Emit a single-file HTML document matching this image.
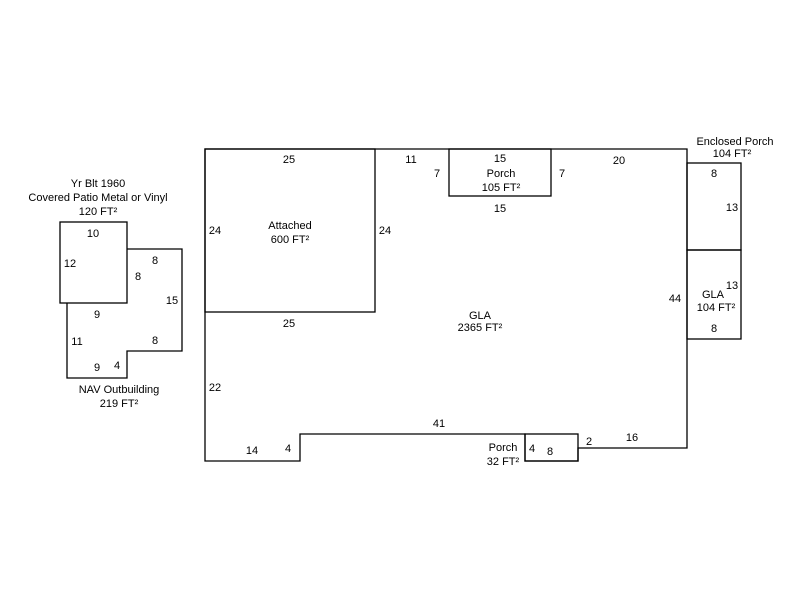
<!DOCTYPE html>
<html><head><style>body{margin:0;background:#fff}</style></head><body>
<svg width="800" height="600" xmlns="http://www.w3.org/2000/svg" font-family="Liberation Sans, Arial, sans-serif" font-size="11" fill="#000">
<rect width="800" height="600" fill="#fff"/>
<g fill="none" stroke="#000" stroke-width="1.3">
<rect x="60" y="222" width="67" height="81"/>
<polyline points="67,303 67,378 127,378 127,351 182,351 182,249 127,249"/>
<polygon points="205,149 687,149 687,448 578,448 578,461 525,461 525,434 300,434 300,461 205,461"/>
<rect x="205" y="149" width="170" height="163"/>
<rect x="449" y="149" width="102" height="47"/>
<rect x="525" y="434" width="53" height="27"/>
<rect x="687" y="163" width="54" height="87"/>
<rect x="687" y="250" width="54" height="89"/>
</g>
<g text-anchor="middle">
<text x="98" y="187">Yr Blt 1960</text>
<text x="98" y="201">Covered Patio Metal or Vinyl</text>
<text x="98" y="215">120 FT²</text>
<text x="93" y="237">10</text><text x="70" y="267">12</text><text x="138" y="280">8</text>
<text x="155" y="264">8</text><text x="172" y="304">15</text><text x="97" y="318">9</text>
<text x="77" y="345">11</text><text x="155" y="344">8</text><text x="97" y="371">9</text><text x="117" y="369">4</text>
<text x="119" y="393">NAV Outbuilding</text><text x="119" y="407">219 FT²</text>
<text x="289" y="163">25</text><text x="215" y="234">24</text><text x="385" y="234">24</text>
<text x="290" y="229">Attached</text><text x="290" y="243">600 FT²</text>
<text x="289" y="327">25</text>
<text x="411" y="163">11</text><text x="437" y="177">7</text><text x="500" y="162">15</text>
<text x="501" y="177">Porch</text><text x="501" y="191">105 FT²</text><text x="562" y="177">7</text>
<text x="500" y="212">15</text><text x="619" y="164">20</text>
<text x="735" y="145">Enclosed Porch</text><text x="732" y="157">104 FT²</text>
<text x="714" y="177">8</text><text x="732" y="211">13</text>
<text x="732" y="289">13</text><text x="713" y="298">GLA</text><text x="716" y="311">104 FT²</text><text x="714" y="332">8</text>
<text x="675" y="302">44</text>
<text x="480" y="319">GLA</text><text x="480" y="331">2365 FT²</text>
<text x="215" y="391">22</text><text x="439" y="427">41</text>
<text x="252" y="454">14</text><text x="288" y="452">4</text>
<text x="503" y="451">Porch</text><text x="503" y="465">32 FT²</text>
<text x="532" y="452">4</text><text x="550" y="455">8</text><text x="589" y="445">2</text><text x="632" y="441">16</text>
</g>
</svg>
</body></html>
